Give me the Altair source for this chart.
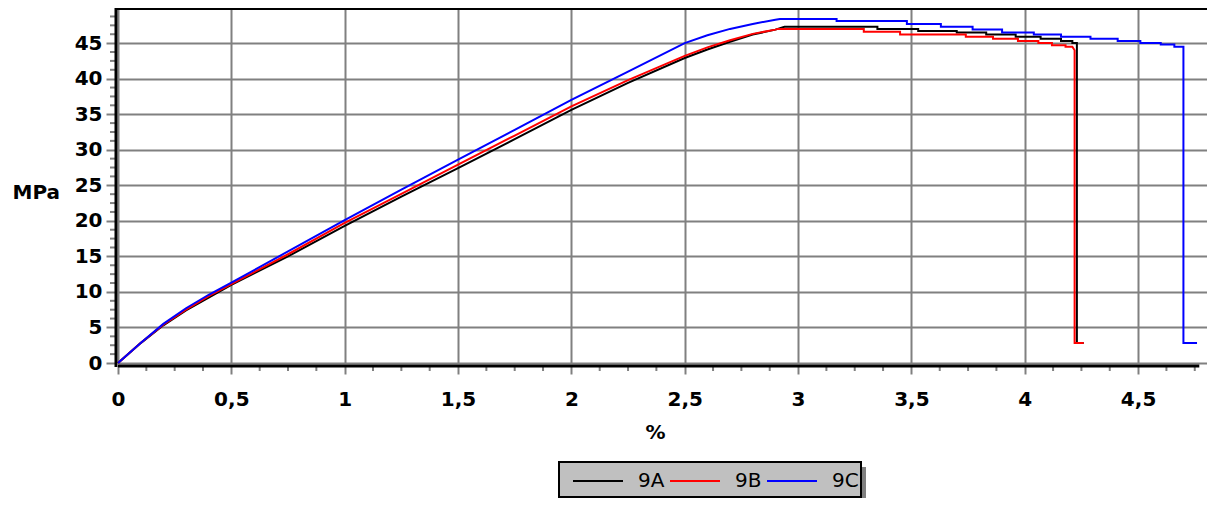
import altair as alt
import pandas as pd

series = ["9A", "9B", "9C"]
colors = ["#000000", "#ff0000", "#0000ff"]

# strain (%) / stress (MPa) readings
strain_9A = [0, 0.1, 0.2, 0.3, 0.4, 0.5, 0.75, 1.0, 1.25, 1.5, 1.75, 2.0, 2.25, 2.5, 2.6, 2.7, 2.8, 2.9,
             2.94, 3.35, 3.35, 3.53, 3.53, 3.70, 3.70, 3.83, 3.83, 3.96, 3.96, 4.07, 4.07, 4.16, 4.16,
             4.21, 4.21, 4.23, 4.23, 4.26]
stress_9A = [0, 2.8, 5.3, 7.4, 9.2, 11.0, 15.0, 19.3, 23.4, 27.4, 31.5, 35.6, 39.4, 42.9, 44.1, 45.2, 46.2, 46.9,
             47.3, 47.3, 47.0, 47.0, 46.7, 46.7, 46.5, 46.5, 46.2, 46.2, 45.9, 45.9, 45.6, 45.6, 45.3,
             45.3, 45.0, 45.0, 2.8, 2.8]

strain_9B = [0, 0.1, 0.2, 0.3, 0.4, 0.5, 0.75, 1.0, 1.25, 1.5, 1.75, 2.0, 2.25, 2.5, 2.6, 2.7, 2.8, 2.9,
             2.91, 3.29, 3.29, 3.45, 3.45, 3.74, 3.74, 3.86, 3.86, 3.97, 3.97, 4.06, 4.06, 4.12, 4.12,
             4.18, 4.18, 4.21, 4.22, 4.22, 4.26]
stress_9B = [0, 2.8, 5.4, 7.5, 9.4, 11.1, 15.3, 19.7, 23.8, 27.9, 32.0, 36.1, 39.8, 43.2, 44.4, 45.4, 46.3, 46.9,
             47.0, 47.0, 46.6, 46.6, 46.2, 46.2, 45.9, 45.9, 45.6, 45.6, 45.3, 45.3, 45.0, 45.0, 44.7,
             44.7, 44.5, 44.5, 44.0, 2.8, 2.8]

strain_9C = [0, 0.1, 0.2, 0.3, 0.4, 0.5, 0.75, 1.0, 1.25, 1.5, 1.75, 2.0, 2.25, 2.5, 2.6, 2.7, 2.8, 2.9,
             2.92, 3.17, 3.17, 3.48, 3.48, 3.63, 3.63, 3.77, 3.77, 3.90, 3.90, 4.04, 4.04, 4.16, 4.16,
             4.29, 4.29, 4.41, 4.41, 4.51, 4.51, 4.60, 4.60, 4.66, 4.66, 4.70, 4.70, 4.76]
stress_9C = [0, 2.8, 5.5, 7.7, 9.6, 11.3, 15.7, 20.1, 24.4, 28.6, 32.8, 37.0, 41.0, 45.0, 46.1, 47.0, 47.7, 48.3,
             48.4, 48.4, 48.1, 48.1, 47.7, 47.7, 47.3, 47.3, 46.9, 46.9, 46.5, 46.5, 46.2, 46.2, 45.9,
             45.9, 45.6, 45.6, 45.3, 45.3, 45.0, 45.0, 44.8, 44.8, 44.5, 44.5, 2.8, 2.8]

x_ticks = [0, 0.5, 1, 1.5, 2, 2.5, 3, 3.5, 4, 4.5]
x_minor = [0.125, 0.25, 0.375, 0.625, 0.75, 0.875, 1.125, 1.25, 1.375, 1.625, 1.75, 1.875,
           2.125, 2.25, 2.375, 2.625, 2.75, 2.875, 3.125, 3.25, 3.375, 3.625, 3.75, 3.875,
           4.125, 4.25, 4.375, 4.625, 4.75]
y_ticks = [0, 5, 10, 15, 20, 25, 30, 35, 40, 45]
y_minor = [1.25, 2.5, 3.75, 6.25, 7.5, 8.75, 11.25, 12.5, 13.75, 16.25, 17.5, 18.75,
           21.25, 22.5, 23.75, 26.25, 27.5, 28.75, 31.25, 32.5, 33.75, 36.25, 37.5, 38.75,
           41.25, 42.5, 43.75, 46.25, 47.5, 48.75]

rows = []
for name, xs, ys in [("9A", strain_9A, stress_9A), ("9B", strain_9B, stress_9B), ("9C", strain_9C, stress_9C)]:
    for i, (x, y) in enumerate(zip(xs, ys)):
        rows.append({"series": name, "strain": x, "stress": y, "idx": i})
df = pd.DataFrame(rows)

W, H = 1089, 354
FONT = "DejaVu Sans"
GRID = "#808080"

xscale = alt.Scale(domain=[0, 4.804], nice=False, zero=False)
yscale = alt.Scale(domain=[0, 49.8], nice=False, zero=False)

x_axis = alt.Axis(values=x_ticks, labelExpr="replace(toString(datum.value), '.', ',')",
                  grid=True, gridColor=GRID, gridWidth=2, domain=False,
                  offset=3, ticks=True, tickColor=GRID, tickWidth=2, tickSize=8,
                  labelPadding=15, labelFlush=False, labelOverlap=False,
                  title="%", titleX=537, titleY=72, titleAlign="center",
                  titleBaseline="alphabetic")
y_axis = alt.Axis(values=y_ticks, grid=True, gridColor=GRID, gridWidth=2,
                  domain=False, offset=2,
                  ticks=True, tickColor=GRID, tickWidth=2, tickSize=10,
                  labelPadding=4, labelFlush=False, labelOverlap=False,
                  title="MPa", titleAngle=0, titleX=-104, titleY=183,
                  titleAlign="left", titleBaseline="middle")

lines = alt.Chart(df).mark_line(strokeWidth=2).encode(
    x=alt.X("strain:Q", scale=xscale, axis=x_axis),
    y=alt.Y("stress:Q", scale=yscale, axis=y_axis),
    color=alt.Color("series:N", scale=alt.Scale(domain=series, range=colors),
                    legend=alt.Legend(title=None, orient="none", legendX=454, legendY=462,
                                      direction="horizontal", symbolType="stroke",
                                      symbolSize=2500, symbolStrokeWidth=2, clipHeight=20,
                                      labelFont=FONT, labelFontSize=20, labelFontWeight="normal",
                                      labelColor="black", labelOffset=14, columnPadding=4,
                                      padding=0)),
    order=alt.Order("idx:Q"),
)

one = pd.DataFrame({"a": [0]})

xaxis_line = alt.Chart(pd.DataFrame({"x0": [0], "x1": [4.77]})).mark_rule(
    color="black", strokeWidth=3).encode(
    x=alt.X("x0:Q", scale=xscale, axis=x_axis), x2="x1:Q", y=alt.value(H + 3))

yaxis_line = alt.Chart(one).mark_rule(color="black", strokeWidth=3).encode(
    x=alt.value(-2), y=alt.value(-1), y2=alt.value(H + 4))

top_line = alt.Chart(one).mark_rule(color="black", strokeWidth=2).encode(
    x=alt.value(-2), x2=alt.value(W), y=alt.value(0))

xminor = alt.Chart(pd.DataFrame({"v": x_minor})).mark_rule(color=GRID, strokeWidth=2).encode(
    x=alt.X("v:Q", scale=xscale, axis=x_axis), y=alt.value(H + 3), y2=alt.value(H + 8))

yminor = alt.Chart(pd.DataFrame({"v": y_minor})).mark_rule(color=GRID, strokeWidth=2).encode(
    y=alt.Y("v:Q", scale=yscale, axis=y_axis), x=alt.value(-2), x2=alt.value(-8))

shadow = alt.Chart(one).mark_rect(color="#808080").encode(
    x=alt.value(446), x2=alt.value(748), y=alt.value(458), y2=alt.value(493))
box = alt.Chart(one).mark_rect(fill="#c0c0c0", stroke="black", strokeWidth=2).encode(
    x=alt.value(441), x2=alt.value(743), y=alt.value(453), y2=alt.value(488))

chart = alt.layer(yminor, lines, xminor, xaxis_line, yaxis_line, top_line, shadow, box).properties(
    width=W, height=H,
    autosize=alt.AutoSizeParams(type="none"),
    padding={"left": 110, "top": 1, "right": 0, "bottom": 135},
).configure_view(stroke=None).configure_axis(
    labelFont=FONT, labelFontSize=20, labelFontWeight="bold", labelColor="black",
    titleFont=FONT, titleFontSize=20, titleFontWeight="bold", titleColor="black",
)

chart.save("out.html", embed_options={"renderer": "svg", "actions": False})
